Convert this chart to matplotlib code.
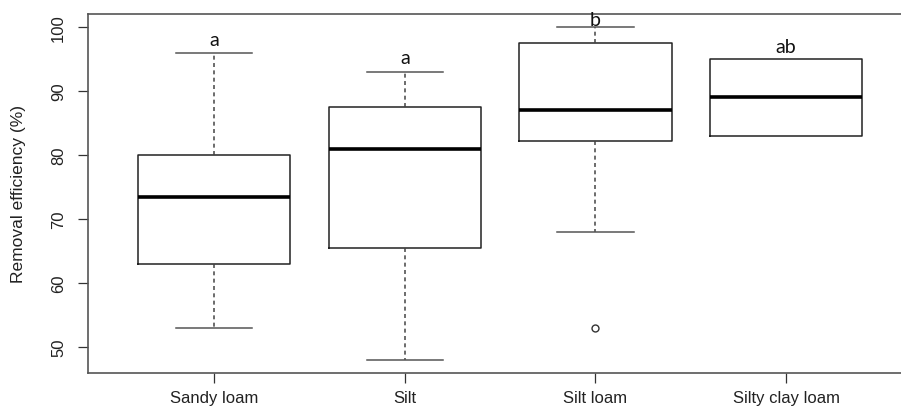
import matplotlib
matplotlib.use('Agg')
import matplotlib.pyplot as plt

# Soil texture groups and box statistics (% removal efficiency)
categories = ['Sandy loam', 'Silt', 'Silt loam', 'Silty clay loam']
whisker_low = [53, 48, 68, 83]
q1 = [63, 65.5, 82.2, 83]
median = [73.5, 81, 87, 89]
q3 = [80, 87.5, 97.5, 95]
whisker_high = [96, 93, 100, 95]
outliers = [[], [], [53], []]
letters = ['a', 'a', 'b', 'ab']

y_ticks = [50, 60, 70, 80, 90, 100]

stats = []
for i in range(len(categories)):
    stats.append({
        'label': categories[i],
        'whislo': whisker_low[i],
        'q1': q1[i],
        'med': median[i],
        'q3': q3[i],
        'whishi': whisker_high[i],
        'fliers': outliers[i],
    })

plt.rcParams['font.family'] = ['Liberation Sans', 'DejaVu Sans']

fig = plt.figure(figsize=(9.01, 4.14), dpi=100)
# right edge of the frame runs past the image, like the cropped original
ax = fig.add_axes([0.098, 0.0966, 0.9142, 0.8679])

line_col = '#222222'
ax.bxp(
    stats,
    positions=range(1, len(categories) + 1),
    widths=0.8,
    showfliers=True,
    boxprops=dict(color=line_col, linewidth=1.1),
    medianprops=dict(color='black', linewidth=2.6, solid_capstyle='butt'),
    whiskerprops=dict(color='#444444', linewidth=1.1, linestyle=(0, (2.6, 2.2))),
    capprops=dict(color='#555555', linewidth=1.1),
    flierprops=dict(marker='o', markersize=5, markerfacecolor='white',
                    markeredgecolor='#333333', markeredgewidth=1.0),
    capwidths=0.4,
)

# significance letters above each group
letter_gap = [3.2, 4.4, -1.0, 3.2]
for i, lab in enumerate(letters):
    ax.annotate(lab, (i + 1, whisker_high[i]), xytext=(0, letter_gap[i]),
                textcoords='offset points', ha='center', va='bottom',
                fontsize=14, family=['Lato', 'DejaVu Sans'], color='#111111')

ax.set_xlim(0.34, 4.66)
ax.set_ylim(45.92, 102.08)
ax.set_yticks(y_ticks)
ax.set_yticklabels([str(v) for v in y_ticks], rotation=90, va='center')
ax.set_xticks(range(1, len(categories) + 1))
ax.set_xticklabels(categories)
ax.tick_params(axis='both', length=7, width=0.9, color='#333333',
               labelsize=12, labelcolor='#222222')
ax.tick_params(axis='y', pad=9)
ax.tick_params(axis='x', pad=5)
ax.set_ylabel('Removal efficiency (%)', fontsize=12.5, color='#222222')
ax.yaxis.set_label_coords(-0.0756, 0.5)

for side in ['left', 'bottom', 'top', 'right']:
    ax.spines[side].set_color('#555555')
    ax.spines[side].set_linewidth(1.2)

plt.savefig('out.png', dpi=100)
